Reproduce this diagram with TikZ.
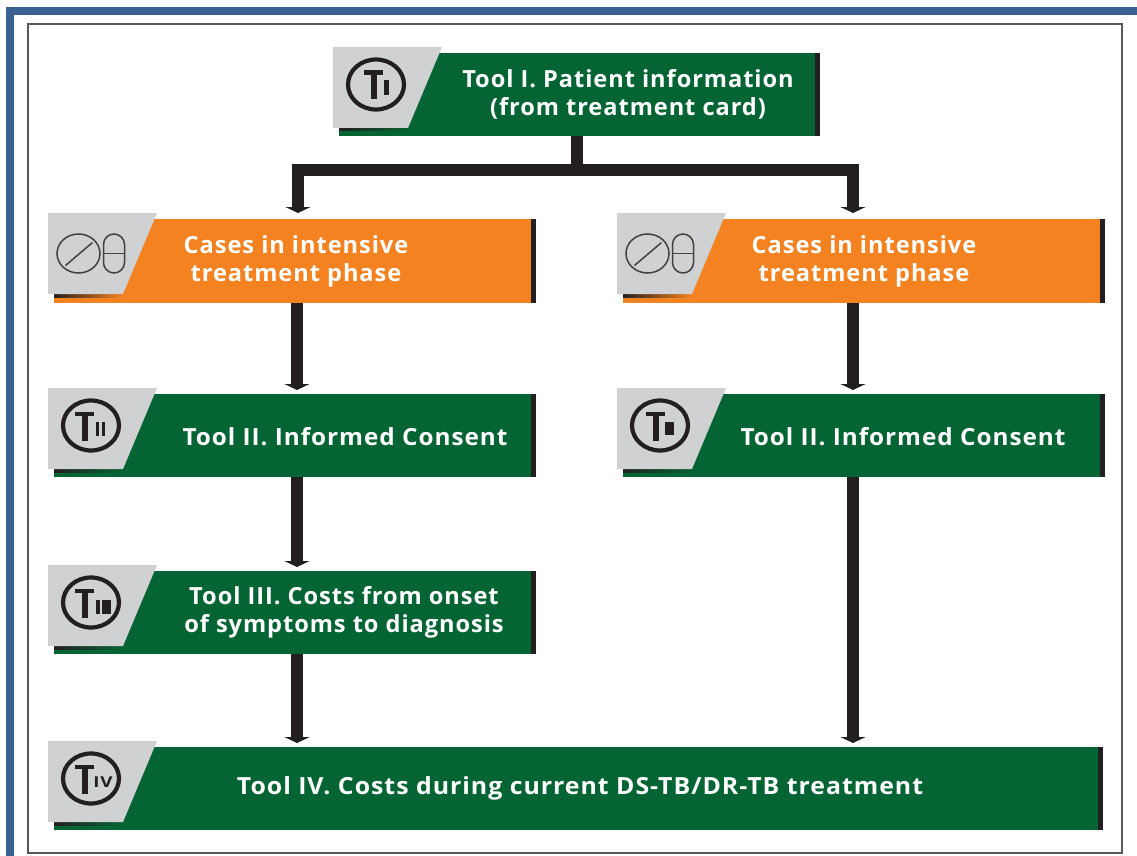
\documentclass[tikz,border=0pt]{standalone}
\usepackage{fontspec}
\setmainfont[LetterSpace=4]{Open Sans}
\usetikzlibrary{arrows.meta}
\definecolor{tgreen}{HTML}{056433}
\definecolor{torange}{HTML}{F58220}
\definecolor{tgray}{HTML}{CFD1D3}
\definecolor{tblue}{HTML}{396293}
\definecolor{tblack}{HTML}{231F20}
\tikzset{
  lbl/.style={text=white,font=\fontsize{23.6}{28}\selectfont\bfseries,align=center,inner sep=0pt},
  conn/.style={draw=tblack,line width=12pt,-{Triangle[length=6pt,width=25pt]}},
  trunk/.style={draw=tblack,line width=12pt},
  ring/.style={draw=tblack,line width=4.2pt},
  glyph/.style={fill=tblack,draw=none},
  thin glyph/.style={draw=tblack!85,line width=1.5pt},
}
% #1 name, #2 left of gray, #3 top of gray, #4 right edge, #5 colour, #6 bottom of band
\newcommand{\toolbox}[6]{
  \fill[#5] (#2+6,#3+6) rectangle (#4,#6);
  \fill[tblack] (#4-5,#3+6) rectangle (#4,#6);
  \shade[left color=tblack,right color=#5] (#2+6,#3+81) rectangle (#2+75,#3+84);
  \fill[tgray] (#2,#3) -- (#2+109,#3) -- (#2+75,#3+81) -- (#2,#3+81) -- cycle;
  \coordinate (#1 c) at (#2+43,#3+37.5);
}
% ring and T of a tool mark: #1 centre, #2 left end of the T bar
\newcommand{\tmark}[2]{
  \draw[ring] (#1) ellipse [x radius=28,y radius=25];
  \fill[glyph] ([shift={(#2,-14)}]#1) rectangle ([shift={(#2+19,-9.5)}]#1);
  \fill[glyph] ([shift={(#2+7,-14)}]#1) rectangle ([shift={(#2+13,15)}]#1);
}
\begin{document}
\begin{tikzpicture}[x=1pt,y=-1pt]
\useasboundingbox (0,0) rectangle (1137,856);
\fill[white] (0,0) rectangle (1137,856);
% page border
\fill[tblue] (6,7) rectangle (1137,15);
\fill[tblue] (6,7) rectangle (14,856);
\draw[draw=tblack!75,line width=2pt] (28,24) rectangle (1122,853);

% boxes
\toolbox{a}{333}{47}{820}{tgreen}{136}
\toolbox{b}{48}{213}{536}{torange}{303}
\toolbox{c}{617}{213}{1105}{torange}{303}
\toolbox{d}{48}{388}{536}{tgreen}{477}
\toolbox{e}{617}{388}{1105}{tgreen}{477}
\toolbox{f}{48}{565}{536}{tgreen}{654}
\toolbox{g}{48}{741}{1103}{tgreen}{830}

% text nodes
\node[lbl] (ta) at (628,94.5) {Tool I. Patient information\\(from treatment card)};
\node[lbl] (tb) at (296,261) {Cases in intensive\\treatment phase};
\node[lbl] (tc) at (864,261) {Cases in intensive\\treatment phase};
\node[lbl,xscale=1.03] (td) at (345,437) {Tool II. Informed Consent};
\node[lbl,xscale=1.03] (te) at (903,437) {Tool II. Informed Consent};
\node[lbl] (tf) at (344,612.5) {Tool III. Costs from onset\\of symptoms to diagnosis};
\node[lbl,xscale=1.053] (tg) at (580,788) {Tool IV. Costs during current DS-TB/DR-TB treatment};

% marks
\tmark{a c}{-12}
\fill[glyph] ([shift={(8,-4)}]a c) rectangle ([shift={(13,11)}]a c);
\tmark{d c}{-16}
\fill[glyph] ([shift={(4.5,-4)}]d c) rectangle ([shift={(8,10)}]d c);
\fill[glyph] ([shift={(10.5,-4)}]d c) rectangle ([shift={(14,10)}]d c);
\tmark{e c}{-14}
\fill[glyph] ([shift={(5,-3.5)}]e c) rectangle ([shift={(14,9.5)}]e c);
\tmark{f c}{-16}
\fill[glyph] ([shift={(5,-3)}]f c) rectangle ([shift={(9,11)}]f c);
\fill[glyph] ([shift={(11,-3)}]f c) rectangle ([shift={(20,11)}]f c);
\tmark{g c}{-16}
\node[inner sep=0pt,text=tblack,xscale=1.25,font=\fontsize{15}{15}\selectfont\bfseries] at ([shift={(12,4)}]g c) {IV};

% pill icons
\foreach \n in {b,c}{
  \coordinate (\n p) at ([shift={(-12.5,3)}]\n\space c);
  \draw[thin glyph] (\n p) ellipse [x radius=21.5,y radius=19.5];
  \draw[thin glyph] ([shift={(-13,12)}]\n p) -- ([shift={(14,-11)}]\n p);
  \draw[thin glyph,rounded corners=10.5pt] ([shift={(25,-19.5)}]\n p) rectangle ([shift={(46,19.5)}]\n p);
  \draw[thin glyph] ([shift={(25,0)}]\n p) -- ([shift={(46,0)}]\n p);
}

% connectors
\coordinate (bus) at (576.5,170);
\coordinate (busl) at (292,170);
\coordinate (busr) at (859,170);
\coordinate (astem) at (576.5,136);
\draw[trunk] (astem) -- (bus);
\draw[trunk] (busl) -- (busr);
\draw[conn] (298,164) -- (298,213);
\draw[conn] (853,164) -- (853,213);
\draw[conn] (297,303) -- (297,390);
\draw[conn] (853,303) -- (853,390);
\draw[conn] (297,477) -- (297,567);
\draw[conn] (297,654) -- (297,743);
\draw[conn] (853,477) -- (853,743);
\end{tikzpicture}
\end{document}
